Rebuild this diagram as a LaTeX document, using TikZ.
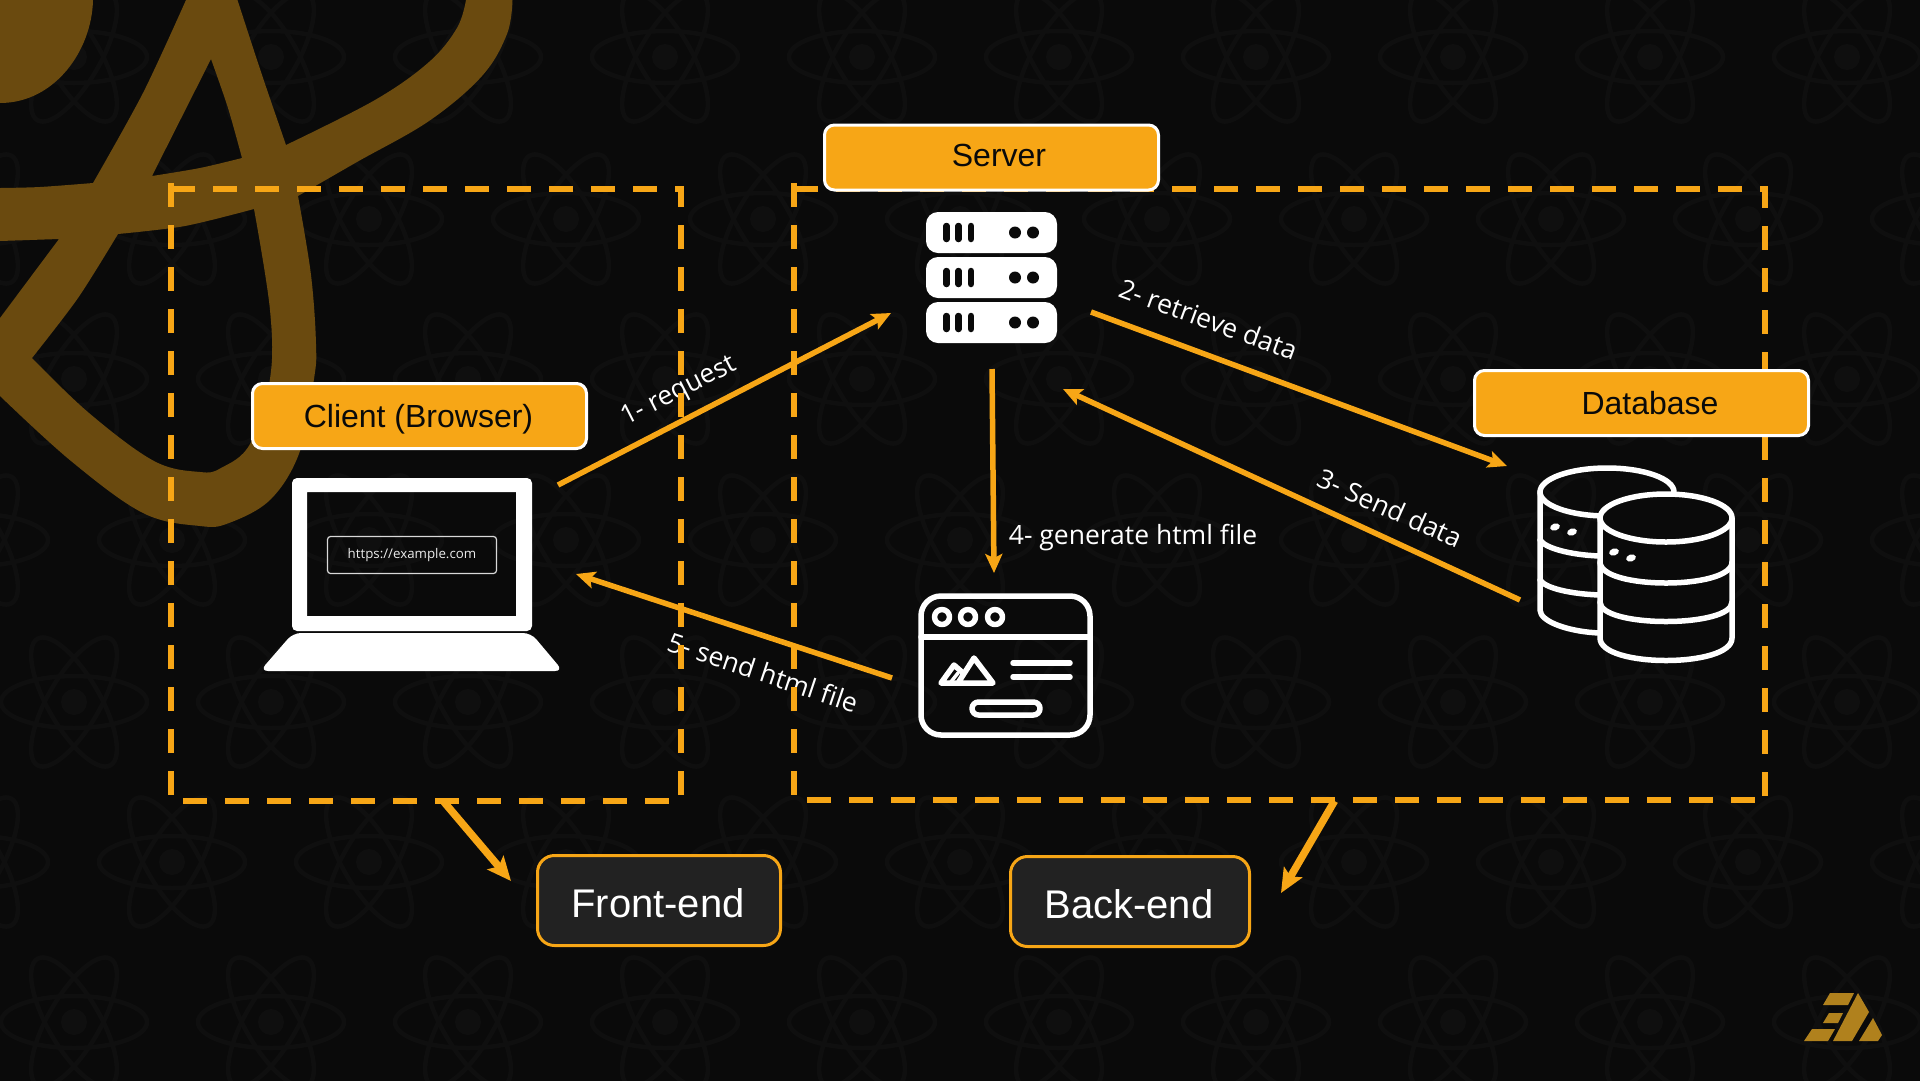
\documentclass[tikz,border=0pt]{standalone}
\usepackage{fontspec}
\setmainfont{Liberation Sans}
\newfontfamily\labelfont{Open Sans}
\usetikzlibrary{positioning, arrows.meta, calc}
\definecolor{bgdark}{HTML}{0A0A0A}
\definecolor{atomgrey}{HTML}{0F0F0F}
\definecolor{accent}{HTML}{F7A616}
\definecolor{swirl}{HTML}{6A4A0F}
\definecolor{markgold}{HTML}{B0811D}
\definecolor{sidegrey}{HTML}{222222}
\tikzset{
  tag/.style    = {draw=white, rectangle, rounded corners=10pt, line width=3pt,
                   minimum width=334pt, minimum height=65pt, inner sep=0pt,
                   fill=accent, text=bgdark, font=\fontsize{32}{36}\selectfont},
  side/.style   = {draw=accent, rectangle, rounded corners=17pt, line width=3pt,
                   minimum height=90pt, inner sep=0pt,
                   fill=sidegrey, text=white, font=\fontsize{40}{44}\selectfont},
  area/.style   = {rectangle, inner sep=0pt, outer sep=0pt},
  dashline/.style = {draw=accent, line width=6pt, dash pattern=on 24pt off 18pt},
  arr/.style    = {-{Stealth[length=19pt,width=17pt,inset=4pt]}, draw=accent, line width=5.5pt},
  arr2/.style   = {-{Stealth[length=24pt,width=21pt,inset=5pt]}, draw=accent, line width=7.5pt},
  lbl/.style    = {text=white, inner sep=0pt, font=\labelfont\fontsize{26.5}{30}\selectfont},
  icon/.style   = {draw=white, line width=5.5pt, line cap=round, line join=round},
}

\begin{document}
\begin{tikzpicture}[x=1pt, y=-1pt]
\useasboundingbox (0,0) rectangle (1920,1080);
\fill[bgdark] (-5,-5) rectangle (1925,1085);

% ────────────────────────────────────────────────────────────
%  Wallpaper: rows of faint atoms, 197 apart, 161 between rows
% ────────────────────────────────────────────────────────────
\foreach \rowy/\rowx in {57/74, 219/172, 379/74, 540/172, 702/74, 862/172, 1022/74} {
  \foreach \k in {-1,...,9} {
    \pgfmathsetmacro{\atomx}{\rowx+197*\k}
    \begin{scope}[shift={(\atomx,\rowy)}, draw=atomgrey, line width=4.5pt]
      \draw (0,0) ellipse (73pt and 26pt);
      \draw[rotate=60] (0,0) ellipse (73pt and 26pt);
      \draw[rotate=120] (0,0) ellipse (73pt and 26pt);
      \fill[atomgrey] (0,0) circle (13pt);
    \end{scope}
  }
}

% ────────────────────────────────────────────────────────────
%  Big brown swirl, top left corner
% ────────────────────────────────────────────────────────────
\fill[swirl] (0,0) -- (93,0) .. controls (92,50) and (55,103) .. (0,103) -- cycle;
\fill[swirl, even odd rule]
  (186,0) -- plot[smooth, tension=0.5] coordinates {(186,0) (143,93) (93,183)}
  -- plot[smooth, tension=0.5] coordinates {(93,183) (40,187) (0,188)}
  -- (0,241) -- (59,239) -- (0,318) -- (0,396)
  -- plot[smooth, tension=0.6] coordinates {(0,396) (71,461) (143,513) (200,526) (229,523) (271,499) (300,451) (314,379) (316,344) (311,275) (298,196)}
  -- plot[smooth, tension=0.6] coordinates {(298,196) (357,162) (429,121) (482,76) (507,34) (512.5,0)}
  -- (466,0)
  -- plot[smooth, tension=0.6] coordinates {(466,0) (457,28) (429,62) (375,100) (286,145)}
  -- plot[smooth, tension=0.5] coordinates {(286,145) (261,72) (237.5,0)}
  -- cycle
  (211,59) -- (152,176)
  -- plot[smooth, tension=0.5] coordinates {(152,176) (200,168) (242,158)}
  -- plot[smooth, tension=0.5] coordinates {(242,158) (228,108) (211,59)}
  -- cycle
  (254,209) -- plot[smooth, tension=0.5] coordinates {(254,209) (185,226) (118,234)}
  -- plot[smooth, tension=0.5] coordinates {(118,234) (78,298) (32,358)}
  -- plot[smooth, tension=0.6] coordinates {(32,358) (89,413) (154,461) (200,472) (221,468) (250,444) (270,379) (270,310) (254,209)}
  -- cycle;

% ────────────────────────────────────────────────────────────
%  Arrow labels (the dashed frames run over them)
% ────────────────────────────────────────────────────────────
\node[lbl, rotate=27] (lbl-req) at (679,392) {1- request};
\node[lbl, rotate=-20] (lbl-get) at (1208.5,319) {2- retrieve data};
\node[lbl, rotate=-24] (lbl-send) at (1390,508) {3- Send data};
\node[lbl] (lbl-gen) at (1133,537.5) {4- generate html file};
\node[lbl, rotate=-18.5] (lbl-html) at (763,672) {5- send html file};

% ────────────────────────────────────────────────────────────
%  Dashed frames
% ────────────────────────────────────────────────────────────
\node[area, minimum width=510pt, minimum height=612pt] (front-area) at (426,495) {};
\node[area, minimum width=971pt, minimum height=611pt] (back-area) at (1279.5,494.5) {};

\draw[dashline] (front-area.north west) -- (front-area.north east) -- (front-area.south east);
\draw[dashline] ([yshift=6pt]front-area.north west) -- (front-area.south west) -- (front-area.south east);
\draw[dashline] (back-area.north west) -- (back-area.north east) -- (back-area.south east);
\draw[dashline] ([yshift=6pt]back-area.north west) -- (back-area.south west) -- (back-area.south east);

% ────────────────────────────────────────────────────────────
%  Title boxes
% ────────────────────────────────────────────────────────────
\node[tag, text height=30pt, text depth=6.8pt] (client) at (419.5,416) {\hspace{-2pt}Client (Browser)};
\node[tag, text height=23pt, text depth=5pt] (server) at (991.5,157.5) {\hspace{15pt}Server};
\node[tag] (database) at (1641.5,403) {\hspace{17pt}Database};

\node[side, minimum width=243pt, text height=34pt, text depth=0pt] (front) at (659,900.5) {\hspace{-2pt}Front-end};
\node[side, minimum width=239pt, text height=33pt, text depth=0pt] (back) at (1130,901.5) {\hspace{-2pt}Back-end};

% ────────────────────────────────────────────────────────────
%  Laptop
% ────────────────────────────────────────────────────────────
\fill[white, even odd rule, rounded corners=5pt] (292,478) rectangle (532,631)
  [sharp corners] (307,492) rectangle (516,616);
\fill[white, rounded corners=8pt] (293,633) -- (531,633) -- (563,671) -- (260,671) -- cycle;
\node[draw=white!85!black, rectangle, rounded corners=3pt, line width=1.2pt,
      minimum width=169pt, minimum height=37pt, inner sep=0pt,
      text=white!92!black, font=\labelfont\fontsize{13.3}{16}\selectfont] (url) at (412,555)
  {https://example.com};

% ────────────────────────────────────────────────────────────
%  Server rack
% ────────────────────────────────────────────────────────────
\foreach \racky in {212,257,302} {
  \fill[white, rounded corners=12pt] (926,\racky) rectangle (1057,\racky+41);
  \foreach \barx in {946.5,958.5,971} {
    \draw[bgdark, line width=6.5pt, line cap=round] (\barx,\racky+14) -- (\barx,\racky+27);
  }
  \fill[bgdark] (1015,\racky+20.5) circle (6pt);
  \fill[bgdark] (1033,\racky+20.5) circle (6pt);
}

% ────────────────────────────────────────────────────────────
%  Web page
% ────────────────────────────────────────────────────────────
\draw[icon, rounded corners=20pt] (921,596) rectangle (1090,735);
\draw[icon] (921,637) -- (1090,637);
\foreach \dotx in {942,968,995} {
  \draw[icon] (\dotx,617) circle (7.5pt);
}
\draw[icon] (958,683) -- (974,658) -- (993,683) -- (941,683) -- (954,665) -- (963,673);
\draw[icon, line width=3.5pt] (950,683) -- (958,673);
\draw[icon] (1013,663) -- (1070,663);
\draw[icon] (1013,677) -- (1070,677);
\draw[icon, rounded corners=6.5pt] (972,702) rectangle (1040,715);

% ────────────────────────────────────────────────────────────
%  Database cylinders
% ────────────────────────────────────────────────────────────
\draw[icon] (1607,492) ellipse (67pt and 24pt);
\draw[icon] (1540,492) -- (1540,610) .. controls (1540,622) and (1570,632) .. (1600,633);
\draw[icon] (1540,540) .. controls (1545,548) and (1570,555) .. (1600,556);
\draw[icon] (1540,580) .. controls (1545,588) and (1570,594) .. (1600,595);
\fill[white, rotate around={18:(1555,527)}] (1555,527) ellipse (5pt and 3.5pt);
\fill[white, rotate around={18:(1572,532)}] (1572,532) ellipse (5pt and 3.5pt);

\fill[bgdark] (1600,518) -- (1600,638) .. controls (1600,668) and (1732,668) .. (1732,638)
  -- (1732,518) .. controls (1732,486) and (1600,486) .. (1600,518) -- cycle;
\draw[icon] (1666,518) ellipse (66pt and 24pt);
\draw[icon] (1600,518) -- (1600,638) .. controls (1600,668) and (1732,668) .. (1732,638) -- (1732,518);
\draw[icon] (1600,562) .. controls (1600,590) and (1732,590) .. (1732,562);
\draw[icon] (1600,602) .. controls (1600,628) and (1732,628) .. (1732,602);
\fill[white, rotate around={18:(1614,552)}] (1614,552) ellipse (5pt and 3.5pt);
\fill[white, rotate around={18:(1631,558)}] (1631,558) ellipse (5pt and 3.5pt);

% ────────────────────────────────────────────────────────────
%  Arrows
% ────────────────────────────────────────────────────────────
\coordinate (laptop-out) at (558,485);
\coordinate (laptop-in)  at (576,574);
\coordinate (rack-in)    at (891,313);
\coordinate (rack-out)   at (1091,312);
\coordinate (rack-back)  at (1063,389);
\coordinate (rack-down)  at (992,369);
\coordinate (page-in)    at (994,573);
\coordinate (page-out)   at (892,678);
\coordinate (db-in)      at (1507,466);
\coordinate (db-out)     at (1520,600);
\coordinate (front-tip)  at (511,881);
\coordinate (back-tip)   at (1281,893);

\draw[arr] (laptop-out) -- (rack-in);
\draw[arr] (rack-out) -- (db-in);
\draw[arr] (db-out) -- (rack-back);
\draw[arr] (rack-down) -- (page-in);
\draw[arr] (page-out) -- (laptop-in);

\draw[arr2] ([xshift=18pt,yshift=-1pt]front-area.south) -- (front-tip);
\draw[arr2] ([xshift=55pt,yshift=-1pt]back-area.south) -- (back-tip);

% ── corner mark ─────────────────────────────────────────────
\fill[markgold] (1830,993) -- (1854,993) -- (1848,1005) -- (1823,1005) -- cycle;
\fill[markgold] (1829,1013) -- (1843,1013) -- (1838,1023) -- (1823,1023) -- cycle;
\fill[markgold] (1812,1029) -- (1835,1029) -- (1828,1041) -- (1804,1041) -- cycle;
\fill[markgold] (1858,993) -- (1869,1012) -- (1852,1041) -- (1833,1041) -- cycle;
\fill[markgold] (1873,1018) -- (1882,1035) -- (1878,1041) -- (1859,1041) -- cycle;

\end{tikzpicture}
\end{document}
